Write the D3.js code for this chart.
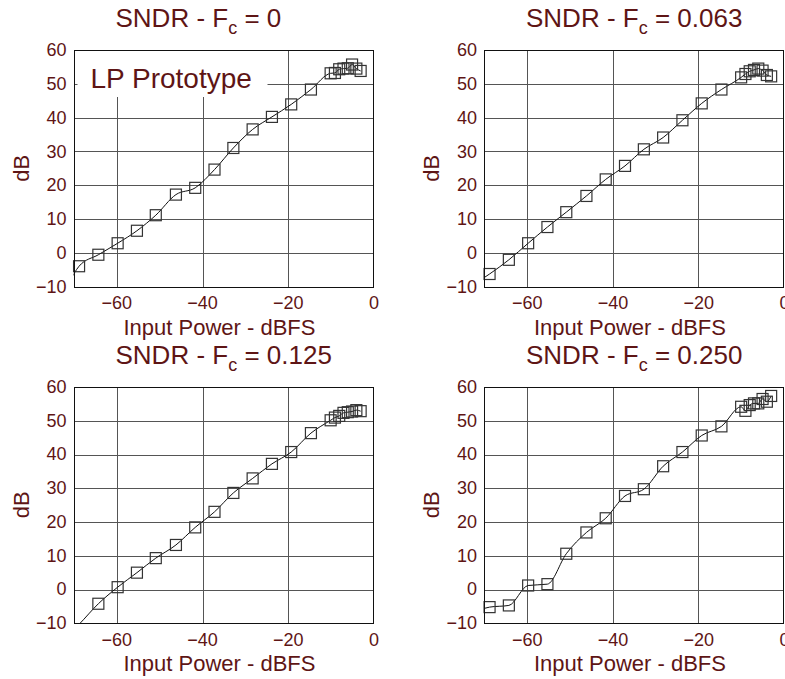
<!DOCTYPE html>
<html>
<head>
<meta charset="utf-8">
<script src="https://cdn.jsdelivr.net/npm/d3@7"></script>
<style>
  body { margin: 0; background: #fff; }
  text { font-family: "Liberation Sans", Arial, sans-serif; fill: #5e1515; }
  .grid line { stroke: #555; stroke-width: 1; shape-rendering: crispEdges; }
  .frame { fill: none; stroke: #111; stroke-width: 1; shape-rendering: crispEdges; }
  .curve { fill: none; stroke: #111; stroke-width: 1; }
  .marker { fill: none; stroke: #333; stroke-width: 1.2; }
</style>
</head>
<body>
<div id="chart"></div>
<script>
// input power sweep (dBFS); the first point lies left of the axis and only feeds the line
var inputPower = [-73.2, -68.7, -64.2, -59.7, -55.2, -50.8, -46.1, -41.6, -37.1, -32.7, -28.2,
  -23.7, -19.2, -14.6, -10, -9, -8, -7, -6, -5, -4, -3];

var sndrFc0 = [-15, -4.0, -0.6, 2.8, 6.5, 11.1, 17.2, 19.2, 24.6, 31.0, 36.5,
  40.2, 43.9, 48.3, 53.1, 53.2, 54.3, 54.5, 54.6, 55.7, 54.5, 53.8];
var sndrFc063 = [-10, -6.3, -2.1, 2.8, 7.6, 12.0, 16.8, 21.7, 25.7, 30.6, 34.1,
  39.2, 44.2, 48.3, 51.9, 52.9, 53.7, 54.1, 54.5, 53.9, 52.6, 52.2];
var sndrFc125 = [-16, -10.4, -4.3, 0.6, 4.9, 9.2, 13.1, 18.3, 22.9, 28.5, 32.8,
  37.1, 40.6, 46.2, 50.0, 50.8, 51.3, 52.2, 52.4, 52.6, 53.0, 52.7];
var sndrFc250 = [-7.3, -5.3, -4.8, 1.1, 1.5, 10.5, 16.8, 21.0, 27.6, 29.6, 36.4,
  40.6, 45.5, 48.2, 54.0, 52.8, 54.5, 55.0, 55.0, 56.3, 55.5, 57.2];

var fcLabels = ["0", "0.063", "0.125", "0.250"];
var series = [sndrFc0, sndrFc063, sndrFc125, sndrFc250];

var xTicks = [-60, -40, -20, 0];
var xGrid = [-60, -40, -20];
var yTicks = [-10, 0, 10, 20, 30, 40, 50, 60];
var yGrid = [0, 10, 20, 30, 40, 50];

var width = 785, height = 679;
var plotW = 300, plotH = 236.5;
var panelPos = [
  {left: 73.5, top: 50},
  {left: 484, top: 50},
  {left: 73.5, top: 386.5},
  {left: 484, top: 386.5}
];

var svg = d3.select("#chart").append("svg")
  .attr("width", width)
  .attr("height", height);

var x = d3.scaleLinear().domain([-70, 0]).range([0, plotW]);
var y = d3.scaleLinear().domain([-10, 60]).range([plotH, 0]);

var line = d3.line()
  .x(function (d) { return x(d[0]); })
  .y(function (d) { return y(d[1]); })
  .curve(d3.curveMonotoneX);

series.forEach(function (vals, i) {
  var pos = panelPos[i];
  var pts = inputPower.map(function (p, j) { return [p, vals[j]]; });
  var g = svg.append("g").attr("transform", "translate(" + pos.left + "," + pos.top + ")");

  g.append("clipPath").attr("id", "clip" + i)
    .append("rect").attr("width", plotW).attr("height", plotH);

  // grid
  var grid = g.append("g").attr("class", "grid");
  grid.selectAll("line.v").data(xGrid).enter().append("line")
    .attr("class", "v")
    .attr("x1", function (d) { return Math.round(x(d)) + 0.5; })
    .attr("x2", function (d) { return Math.round(x(d)) + 0.5; })
    .attr("y1", 0).attr("y2", plotH);
  grid.selectAll("line.h").data(yGrid).enter().append("line")
    .attr("class", "h")
    .attr("y1", function (d) { return Math.round(y(d)) + 0.5; })
    .attr("y2", function (d) { return Math.round(y(d)) + 0.5; })
    .attr("x1", 0).attr("x2", plotW);

  if (i === 0) {
    g.append("rect")
      .attr("x", 4).attr("y", 1)
      .attr("width", 190).attr("height", 46)
      .attr("fill", "#fff");
    g.append("text")
      .attr("x", 17).attr("y", 38)
      .style("font-size", "28px")
      .text("LP Prototype");
  }

  g.append("path")
    .datum(pts)
    .attr("class", "curve")
    .attr("clip-path", "url(#clip" + i + ")")
    .attr("d", line);

  g.selectAll("rect.marker")
    .data(pts.filter(function (d) { return d[0] >= -70 && d[0] <= 0 && d[1] >= -10 && d[1] <= 60; }))
    .enter().append("rect")
    .attr("class", "marker")
    .attr("x", function (d) { return x(d[0]) - 5.5; })
    .attr("y", function (d) { return y(d[1]) - 5.5; })
    .attr("width", 11).attr("height", 11);

  g.append("rect").attr("class", "frame")
    .attr("x", 0.5).attr("y", 0.5)
    .attr("width", plotW - 1).attr("height", plotH);

  // axes
  var ax = g.append("g")
    .attr("transform", "translate(0," + plotH + ")")
    .call(d3.axisBottom(x).tickValues(xTicks).tickSize(0).tickPadding(10).tickFormat(d3.format("d")));
  var ay = g.append("g")
    .call(d3.axisLeft(y).tickValues(yTicks).tickSize(0).tickPadding(7).tickFormat(d3.format("d")));
  [ax, ay].forEach(function (a) {
    a.select(".domain").remove();
    a.selectAll("text")
      .attr("fill", null)
      .style("font-size", "18px")
      .style("font-family", "'Liberation Sans', Arial, sans-serif");
  });

  g.append("text")
    .attr("x", plotW / 2 - 4)
    .attr("y", plotH + 48)
    .attr("text-anchor", "middle")
    .style("font-size", "22px")
    .text("Input Power - dBFS");

  g.append("text")
    .attr("transform", "translate(-45," + (plotH / 2) + ") rotate(-90)")
    .attr("text-anchor", "middle")
    .style("font-size", "22px")
    .text("dB");

  var title = g.append("text")
    .attr("x", 42)
    .attr("y", -23)
    .style("font-size", "26px");
  title.append("tspan").text("SNDR - F");
  title.append("tspan").attr("dy", 7).style("font-size", "18px").text("c");
  title.append("tspan").attr("dy", -7).text(" = " + fcLabels[i]);
});
</script>
</body>
</html>
